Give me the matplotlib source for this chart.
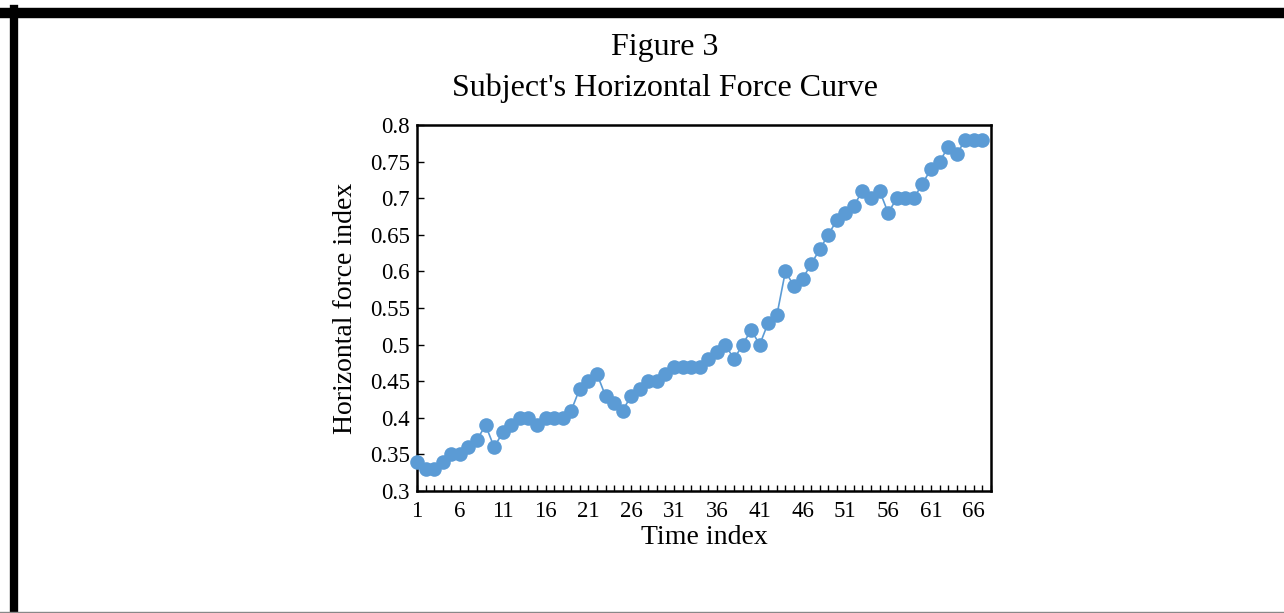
import matplotlib
matplotlib.use("Agg")
import matplotlib.pyplot as plt
from matplotlib.ticker import MultipleLocator, FixedLocator
from matplotlib.lines import Line2D

time_index = list(range(1, 68))
force = [0.34, 0.33, 0.33, 0.34, 0.35, 0.35, 0.36, 0.37, 0.39, 0.36,
         0.38, 0.39, 0.40, 0.40, 0.39, 0.40, 0.40, 0.40, 0.41, 0.44,
         0.45, 0.46, 0.43, 0.42, 0.41, 0.43, 0.44, 0.45, 0.45, 0.46,
         0.47, 0.47, 0.47, 0.47, 0.48, 0.49, 0.50, 0.48, 0.50, 0.52,
         0.50, 0.53, 0.54, 0.60, 0.58, 0.59, 0.61, 0.63, 0.65, 0.67,
         0.68, 0.69, 0.71, 0.70, 0.71, 0.68, 0.70, 0.70, 0.70, 0.72,
         0.74, 0.75, 0.77, 0.76, 0.78, 0.78, 0.78]
x_labels = list(range(1, 68, 5))
y_ticks = [0.3, 0.35, 0.4, 0.45, 0.5, 0.55, 0.6, 0.65, 0.7, 0.75, 0.8]
y_labels = ['0.3', '0.35', '0.4', '0.45', '0.5', '0.55', '0.6', '0.65', '0.7', '0.75', '0.8']

plt.rcParams['font.family'] = ['Liberation Serif', 'DejaVu Serif']

fig = plt.figure(figsize=(12.84, 6.13), dpi=100)
ax = fig.add_axes([0.3248, 0.199, 0.447, 0.597])

ax.plot(time_index, force, color='#5B9BD5', linewidth=1.2, marker='o',
        markersize=10.5, markeredgewidth=0, clip_on=False, zorder=3)

# excel-style category axis, one empty slot at the right end
ax.set_xlim(1, 68)
ax.set_ylim(0.3, 0.8)
ax.xaxis.set_major_locator(FixedLocator(x_labels))
ax.xaxis.set_minor_locator(MultipleLocator(1))
ax.set_yticks(y_ticks)
ax.set_yticklabels(y_labels)
ax.tick_params(axis='x', which='both', direction='in', length=4, width=1,
               labelsize=16.5, pad=7)
ax.tick_params(axis='y', direction='in', length=5, width=1, labelsize=16.5, pad=5)
for s in ax.spines.values():
    s.set_linewidth(1.8)

ax.set_xlabel('Time index', fontsize=20, labelpad=2)
ax.set_ylabel('Horizontal force index', fontsize=20, labelpad=9)

fig.text(0.518, 0.923, 'Figure 3', ha='center', va='center', fontsize=23)
fig.text(0.518, 0.856, "Subject's Horizontal Force Curve", ha='center', va='center', fontsize=23)

# page frame lines
fig.add_artist(Line2D([0, 1], [0.978, 0.978], color='black', linewidth=7.5, transform=fig.transFigure))
fig.add_artist(Line2D([0.011, 0.011], [0, 0.985], color='black', linewidth=6, transform=fig.transFigure))
fig.add_artist(Line2D([0, 1], [0.002, 0.002], color='#888888', linewidth=1, transform=fig.transFigure))

fig.savefig('out.png', dpi=100)
